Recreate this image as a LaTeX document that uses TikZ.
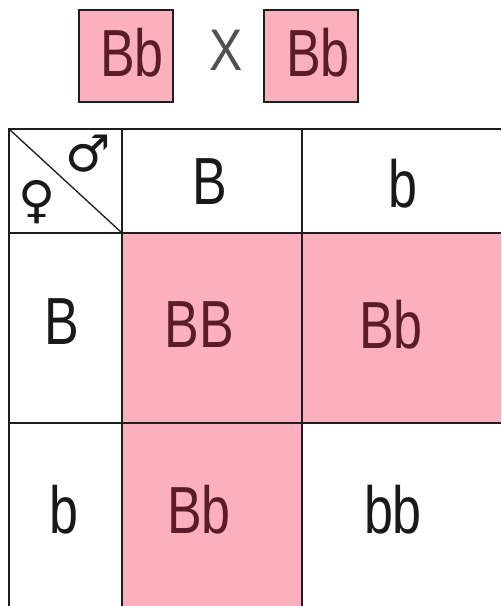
\documentclass[tikz,border=0pt]{standalone}
\usepackage{fontspec}
\usepackage{graphicx}
\setmainfont{Liberation Sans}
\newfontfamily\symfont{DejaVu Sans}
\definecolor{cellpink}{RGB}{252,176,190}
\definecolor{gridline}{RGB}{30,30,30}
\definecolor{inkred}{RGB}{90,28,40}
\definecolor{inkdark}{RGB}{25,25,25}
\tikzset{
  gline/.style={draw=gridline, line width=1.5pt},
  letters/.style={inner sep=0pt, font=\fontsize{50}{50}\selectfont},
  onpink/.style={letters, text=inkred},
  onwhite/.style={letters, text=inkdark},
  parentbox/.style={draw=gridline, line width=1.5pt, fill=cellpink, minimum width=70.5pt, minimum height=69pt, inner sep=0pt},
  sexsym/.style={inner sep=0pt, text=inkdark, font=\symfont\fontsize{38}{38}\selectfont}
}
\newcommand{\narrow}[1]{\scalebox{0.78}[1]{#1}}
\begin{document}
\begin{tikzpicture}[x=0.75pt,y=-0.75pt]
\useasboundingbox (0,0) rectangle (501,606);
\fill[white] (0,0) rectangle (501,606);
% pink cells
\fill[cellpink] (122,233) rectangle (501,423);
\fill[cellpink] (122,423) rectangle (302,606);
% grid
\draw[gline] (9,606) -- (9,129) -- (501,129);
\draw[gline] (9,233) -- (501,233);
\draw[gline] (9,423) -- (501,423);
\draw[gline] (122,129) -- (122,606);
\draw[gline] (302,129) -- (302,606);
\draw[draw=gridline, line width=1pt] (9,129) -- (122,233);
% parents
\node[parentbox] (p1) at (126,56) {};
\node[parentbox] (p2) at (311,56) {};
\node[onpink] (p1t) at (132,53) {\narrow{Bb}};
\node[onpink] (p2t) at (318,53) {\narrow{Bb}};
\node[inner sep=0pt, text={rgb,255:red,80;green,80;blue,80}, font=\fontsize{44}{44}\selectfont] (cross) at (226,50) {\scalebox{0.85}[1]{X}};
% sex symbols
\node[sexsym] (male) at (88,154) {♂};
\node[sexsym] (female) at (37,202) {♀};
% headers
\node[onwhite] (hB) at (210,182) {\narrow{B}};
\node[onwhite] (hb) at (403,184) {\narrow{b}};
\node[onwhite] (rB) at (62,322) {\narrow{B}};
\node[onwhite] (rb) at (64,510) {\narrow{b}};
% offspring
\node[onpink] (BB) at (199,325) {\narrow{BB}};
\node[onpink] (Bb1) at (391,325) {\narrow{Bb}};
\node[onpink] (Bb2) at (199,510) {\narrow{Bb}};
\node[onwhite] (bb) at (393,510) {\narrow{bb}};
\end{tikzpicture}
\end{document}
